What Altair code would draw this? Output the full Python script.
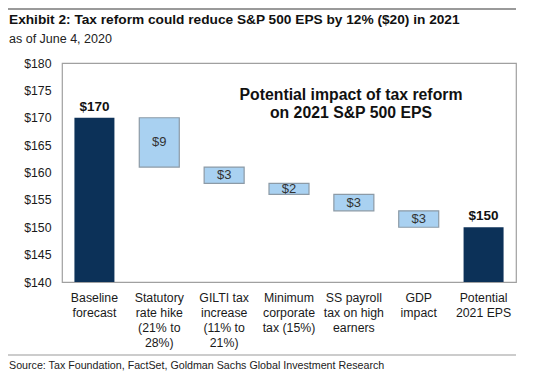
import altair as alt
import pandas as pd

categories = [
    "Baseline\nforecast",
    "Statutory\nrate hike\n(21% to\n28%)",
    "GILTI tax\nincrease\n(11% to\n21%)",
    "Minimum\ncorporate\ntax (15%)",
    "SS payroll\ntax on high\nearners",
    "GDP\nimpact",
    "Potential\n2021 EPS",
]
changes = [170, -9, -3, -2, -3, -3, 150]
kinds = ["total", "change", "change", "change", "change", "change", "total"]
labels = ["$170", "$9", "$3", "$2", "$3", "$3", "$150"]
y_ticks = [140, 145, 150, 155, 160, 165, 170, 175, 180]

rows = []
running = 0
for c, v, k, l in zip(categories, changes, kinds, labels):
    if k == "total":
        lo, hi = 140, v
        running = v
    else:
        hi = running
        lo = running + v
        running = lo
    rows.append({"cat": c, "lo": lo, "hi": hi, "kind": k, "label": l, "mid": (lo + hi) / 2})
df = pd.DataFrame(rows)

FONT = "Liberation Sans"
NAVY = "#0c3158"
LIGHT = "#a9d1f1"

xenc = alt.X(
    "cat:N",
    sort=categories,
    scale=alt.Scale(paddingInner=0, paddingOuter=0),
    axis=alt.Axis(
        title=None, labelAngle=0, ticks=False, domain=False,
        labelExpr="split(datum.label, '\\n')",
        labelFont=FONT, labelFontSize=12.3, labelColor="#1a1a1a",
        labelLineHeight=15, labelPadding=9, labelLimit=0,
    ),
)
yscale = alt.Scale(domain=[140, 180], nice=False, zero=False)
yaxis = alt.Axis(
    title=None, values=y_ticks, format="$d", tickCount=9,
    ticks=False, domain=False, grid=False, labelOverlap=False,
    labelFont=FONT, labelFontSize=12.3, labelColor="#1a1a1a", labelPadding=11,
)

def yenc(field):
    return alt.Y(field, type="quantitative", scale=yscale, axis=yaxis)

base = alt.Chart(df)

bars_total = base.transform_filter("datum.kind == 'total'").mark_bar(size=40, color=NAVY).encode(
    x=xenc, y=yenc("lo"), y2="hi:Q",
)
bars_change = base.transform_filter("datum.kind == 'change'").mark_bar(
    size=40, color=LIGHT, stroke="#8c9aa6", strokeWidth=1.2
).encode(x=xenc, y=yenc("lo"), y2="hi:Q")

text_total = base.transform_filter("datum.kind == 'total'").mark_text(
    font=FONT, fontSize=13.5, fontWeight="bold", color="#111", dy=-11
).encode(x=xenc, y=yenc("hi"), text="label:N")

text_change = base.transform_filter("datum.kind == 'change'").mark_text(
    font=FONT, fontSize=13, color="#333"
).encode(x=xenc, y=yenc("mid"), text="label:N")

annot = alt.Chart(pd.DataFrame({"t": [["Potential impact of tax reform", "on 2021  S&P 500 EPS"]]})).mark_text(
    font=FONT, fontSize=15.8, fontWeight="bold", color="#111", align="center", lineHeight=18, baseline="top"
).encode(x=alt.value(289), y=alt.value(25), text="t")

title = alt.Chart(pd.DataFrame({"t": ["Exhibit 2: Tax reform could reduce S&P 500 EPS by 12% ($20) in 2021"]})).mark_text(
    font=FONT, fontSize=13.7, fontWeight="bold", color="#111", align="left", baseline="middle"
).encode(x=alt.value(-53), y=alt.value(-43), text="t")

subtitle = alt.Chart(pd.DataFrame({"t": ["as of June 4, 2020"]})).mark_text(
    font=FONT, fontSize=12.5, color="#222", align="left", baseline="middle"
).encode(x=alt.value(-53), y=alt.value(-24), text="t")

source = alt.Chart(pd.DataFrame({"t": ["Source: Tax Foundation, FactSet, Goldman Sachs Global Investment Research"]})).mark_text(
    font=FONT, fontSize=10.7, color="#222", align="left", baseline="middle"
).encode(x=alt.value(-53), y=alt.value(303), text="t")

topline = alt.Chart(pd.DataFrame({"a": [0]})).mark_rule(color="#9a9a9a", strokeWidth=2).encode(
    x=alt.value(-54), x2=alt.value(454), y=alt.value(-54)
)
botline = alt.Chart(pd.DataFrame({"a": [0]})).mark_rule(color="#9a9a9a", strokeWidth=1.2).encode(
    x=alt.value(-54), x2=alt.value(454), y=alt.value(292)
)

chart = alt.layer(
    bars_total, bars_change, text_total, text_change, annot, title, subtitle, source, topline, botline
).properties(
    width=454, height=219,
    autosize=alt.AutoSizeParams(type="none"),
    padding={"left": 54, "top": 55, "right": 26, "bottom": 90},
    background="white",
).configure_view(stroke="#a0a0a0", strokeWidth=1.2)

chart.save("out.html", embed_options={"renderer": "svg", "actions": False})
